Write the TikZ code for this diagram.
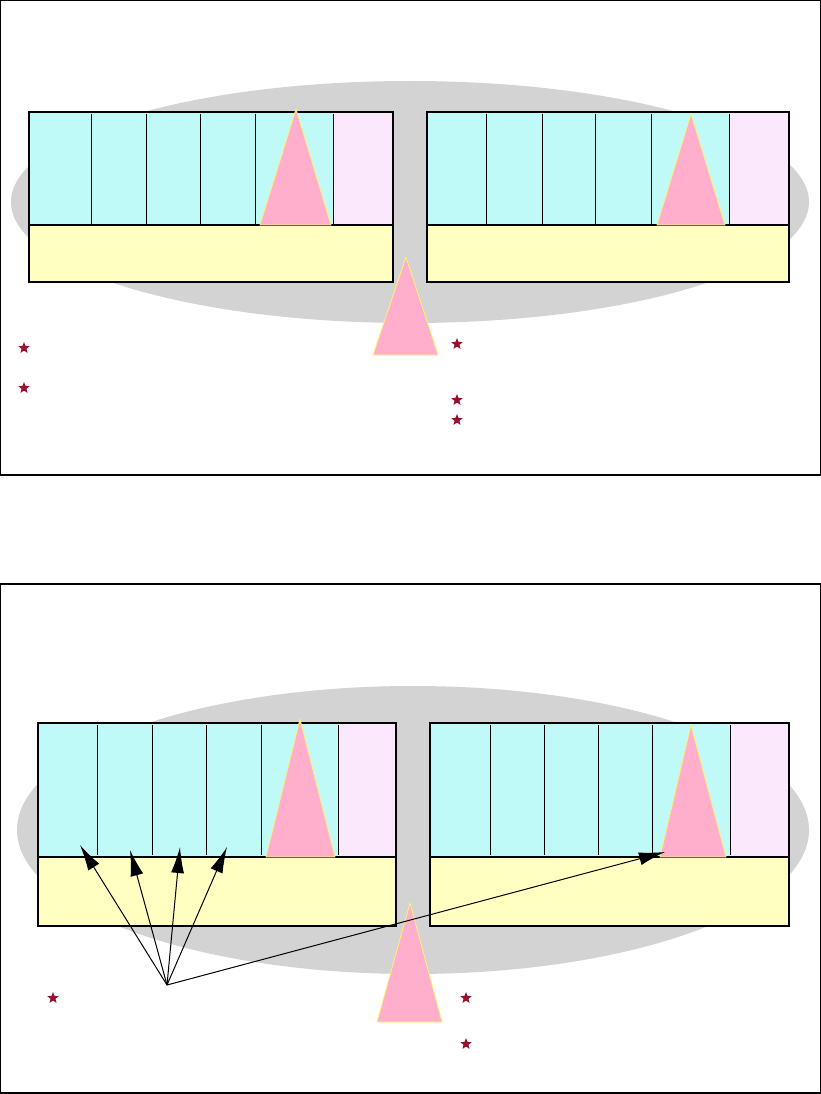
\documentclass[tikz,border=0pt]{standalone}
\usetikzlibrary{arrows.meta,shapes.geometric}
\definecolor{cloudgray}{HTML}{D3D3D3}
\definecolor{cellcyan}{HTML}{BFFAF9}
\definecolor{sparelilac}{HTML}{FBE8FD}
\definecolor{baseyellow}{HTML}{FFFFC2}
\definecolor{spikepink}{HTML}{FFAECB}
\definecolor{spikeedge}{HTML}{FFF36B}
\definecolor{starred}{HTML}{99112F}

\begin{document}
\begin{tikzpicture}[
  x=1pt, y=-1pt,
  panelframe/.style={draw=black, line width=1.3pt},
  cloud/.style={fill=cloudgray},
  slotfill/.style={fill=cellcyan},
  sparefill/.style={fill=sparelilac},
  basefill/.style={fill=baseyellow},
  boxline/.style={draw=black, line width=1.2pt},
  divline/.style={draw=black, line width=0.9pt},
  spike/.style={fill=spikepink, draw=spikeedge, line width=0.8pt},
  starmark/.style={star, star points=5, star point ratio=2.3, fill=starred, inner sep=0pt, minimum size=12pt},
  link/.style={-{Latex[length=26pt,width=13pt]}, line width=1pt}
]
\useasboundingbox (0,0) rectangle (821,1094);

% upper panel
\draw[panelframe] (0.7,0.7) rectangle (820.3,475);
\fill[cloud] (410,202) ellipse [x radius=399, y radius=121];

\fill[slotfill] (29,112) rectangle (333,225);
\fill[sparefill] (333,112) rectangle (393,225);
\fill[basefill] (29,225) rectangle (393,282);
\foreach \x in {91,146,200,255,333} \draw[divline] (\x,114) -- (\x,225);
\draw[boxline] (29,112) rectangle (393,282);
\draw[boxline] (29,225) -- (393,225);
\filldraw[spike] (296,109) -- (331,225) -- (260,225) -- cycle;

\fill[slotfill] (427,112) rectangle (729,225);
\fill[sparefill] (729,112) rectangle (789,225);
\fill[basefill] (427,225) rectangle (789,282);
\foreach \x in {486,542,595,651,729} \draw[divline] (\x,114) -- (\x,225);
\draw[boxline] (427,112) rectangle (789,282);
\draw[boxline] (427,225) -- (789,225);
\filldraw[spike] (691,114) -- (725,225) -- (657,225) -- cycle;

\filldraw[spike] (406,257) -- (438,355) -- (373,355) -- cycle;

\node[starmark] (ua) at (24,348) {};
\node[starmark] (ub) at (24,388) {};
\node[starmark] (uc) at (457,344) {};
\node[starmark] (ud) at (457,400) {};
\node[starmark] (ue) at (457,420) {};

% lower panel
\draw[panelframe] (0.7,584) rectangle (820.3,1093);
\fill[cloud] (413,830) ellipse [x radius=396, y radius=144];

\fill[slotfill] (38,723) rectangle (338,857);
\fill[sparefill] (338,723) rectangle (396,857);
\fill[basefill] (38,857) rectangle (396,926);
\foreach \x in {97,152,206,261,338} \draw[divline] (\x,725) -- (\x,855);
\draw[boxline] (38,723) rectangle (396,926);
\draw[boxline] (38,857) -- (396,857);
\filldraw[spike] (300,719) -- (335,857) -- (266,857) -- cycle;

\fill[slotfill] (430,723) rectangle (730,857);
\fill[sparefill] (730,723) rectangle (789,857);
\fill[basefill] (430,857) rectangle (789,926);
\foreach \x in {490,544,598,652,730} \draw[divline] (\x,725) -- (\x,855);
\draw[boxline] (430,723) rectangle (789,926);
\draw[boxline] (430,857) -- (789,857);
\filldraw[spike] (691,725) -- (726,857) -- (660,857) -- cycle;

\filldraw[spike] (410,903) -- (442,1022) -- (377,1022) -- cycle;

\coordinate (src) at (167,985);
\coordinate (t1) at (80,845);
\coordinate (t2) at (130,850);
\coordinate (t3) at (180,847);
\coordinate (t4) at (227,847);
\coordinate (t5) at (665,852);
\draw[link] (src) -- (t1);
\draw[link] (src) -- (t2);
\draw[link] (src) -- (t3);
\draw[link] (src) -- (t4);
\draw[link] (src) -- (t5);

\node[starmark] (la) at (53,998) {};
\node[starmark] (lb) at (466,998) {};
\node[starmark] (lc) at (466,1044) {};
\end{tikzpicture}
\end{document}
